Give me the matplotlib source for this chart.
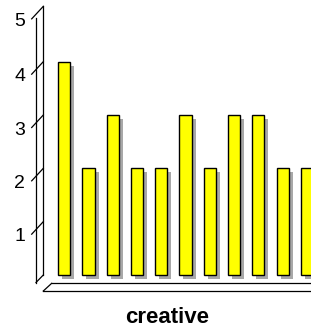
import matplotlib
matplotlib.use("Agg")
import matplotlib.pyplot as plt
from matplotlib.transforms import offset_copy, IdentityTransform
from matplotlib.lines import Line2D
import numpy as np

# ---- data ----
values = [4, 2, 3, 2, 2, 3, 2, 3, 3, 2, 2]
yticks = [1, 2, 3, 4, 5]
xlabel = "creative"

plt.rcParams['font.family'] = ['Liberation Sans', 'DejaVu Sans']

W, H = 311, 330
fig = plt.figure(figsize=(W / 100, H / 100), dpi=100)
ax = fig.add_axes([0, 0, 1, 1])
ax.set_axis_off()

# pixel mapping (bottom-origin)
y0_px, unit_y = 55.0, 53.33
x0_px, unit_x = 64.2, 24.27
ax.set_xlim(-x0_px / unit_x, (W - x0_px) / unit_x)
ax.set_ylim(-y0_px / unit_y, (H - y0_px) / unit_y)

x = np.arange(len(values))
width = 0.5

# shadows
shadow_tr = offset_copy(ax.transData, fig=fig, x=4, y=-4, units='dots')
ax.bar(x, values, width=width, color='#a8a8a8', edgecolor='none',
       transform=shadow_tr, zorder=1)
# bars
ax.bar(x, values, width=width, color='#ffff00', edgecolor='black',
       linewidth=1.0, zorder=2)

# ---- pseudo 3D wall, ticks, floor (display pixels) ----
ident = IdentityTransform()
xwall = (43.3 - x0_px) / unit_x


def disp(xd, yd):
    return ax.transData.transform((xd, yd))


def line(p, q, **kw):
    fig.add_artist(Line2D([p[0], q[0]], [p[1], q[1]], transform=ident,
                          color='black', linewidth=0.9, **kw))


ymax = max(yticks)
b0 = disp(xwall, 0)
b1 = disp(xwall, ymax)
b1 = (b1[0], b1[1] + 2)
dx, dy = 7.3, 7.5
line(b0, b1)
line((b0[0] - dx, b0[1] - dy), (b1[0] - dx, b1[1] - dy - 4))
line(b0, (b0[0] - dx, b0[1] - dy))

for v in yticks:
    p = disp(xwall, v)
    if v == ymax:
        p = (p[0], p[1] + 2)
    q = (p[0] - 11.6, p[1] - 12.5)
    line(p, q)
    fig.text((q[0] - 6.5) / W, (q[1] - 2.5) / H, str(v), ha='right', va='center',
             fontsize=14, transform=fig.transFigure)

# floor
fb = (b0[0] + 8.4, b0[1] - 8.3)
ff = (b0[0], b0[1] - 16)
line(fb, (W + 5, fb[1]))
line(ff, (W + 5, ff[1]))
line(ff, fb)

fig.text(167.5 / W, 7 / H, xlabel, ha='center', va='baseline',
         fontsize=16, fontweight='bold')

fig.savefig('out.png', dpi=100)
